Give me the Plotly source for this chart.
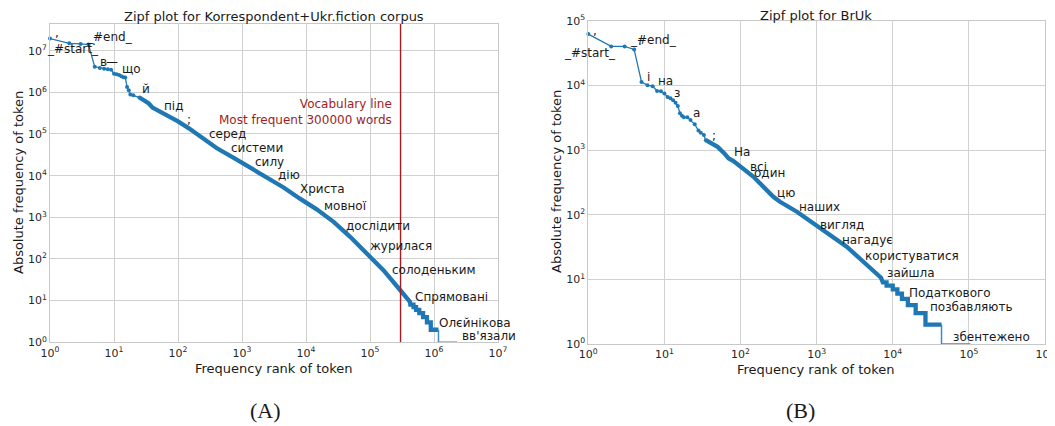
import numpy as np
import plotly.graph_objects as go

# page body adds an 8px margin, so the figure is 8px smaller and all layout positions
# are expressed in window pixels minus that offset
OFF = 8
W, H = 1055 - OFF, 426 - OFF
C0 = "#1f77b4"
RED = "#a11d21"
GRID = "#d0d0d0"
FONT = "DejaVu Sans"

# ---------------- (A) Korrespondent + Ukr.fiction ----------------
a_head_rank = [1, 2, 3, 4, 5, 6, 7, 8, 9, 10, 11, 12, 13, 14, 15, 16, 17, 18, 20, 25]
a_head_freq = [1.95e7, 1.5e7, 1.45e7, 1.4e7, 4.1e6, 3.85e6, 3.7e6, 3.6e6, 3.5e6, 2.8e6,
               2.7e6, 2.6e6, 2.43e6, 2.3e6, 2.26e6, 1.35e6, 1.12e6, 8.9e5, 8.5e5, 7.5e5]
a_body_rank = [25, 30, 35, 40, 45, 50, 60, 70, 80, 100, 150, 200, 300, 400, 720, 1330, 2450,
               4470, 8050, 14700, 27000, 49000, 89000, 162000, 295000, 422000]
a_body_freq = [7.5e5, 6.5e5, 5.4e5, 4.3e5, 3.9e5, 3.6e5, 3.2e5, 2.8e5, 2.5e5, 2.0e5, 1.35e5,
               1.0e5, 6.4e4, 4.6e4, 2.75e4, 1.6e4, 9.3e3, 5.2e3, 2.8e3, 1.55e3, 780, 340,
               135, 54, 18, 9.3]
a_step_freq = [8, 7, 6, 5, 4, 3, 2, 1]
a_step_start = [4.27e5, 4.79e5, 5.25e5, 5.89e5, 6.76e5, 7.76e5, 8.91e5, 1.175e6]
a_step_end = [4.78e5, 5.24e5, 5.88e5, 6.75e5, 7.75e5, 8.90e5, 1.174e6, 2.3e6]
a_vocab = 300000

a_labels = [",", "_#start_", ".", "_#end_", "в", "—", "що", "й", "під", ";", "серед",
            "системи", "силу", "дію", "Христа", "мовної", "дослідити", "журилася",
            "солоденьким", "Спрямовані", "Олєйнікова", "вв'язали"]
a_lab_rank = [1.1, 1.0, 4.2, 3.4, 5.7, 7.0, 12.4, 25.5, 56, 129, 284, 627, 1480, 3400,
              7500, 17800, 39000, 93000, 2.04e5, 4.7e5, 1.12e6, 2.55e6]
a_lab_freq = [2.6e7, 1.07e7, 1.68e7, 2.1e7, 5.4e6, 5.4e6, 3.7e6, 1.18e6, 4.7e5, 2.15e5,
              9.9e4, 4.6e4, 2.1e4, 1.02e4, 4740, 1860, 617, 204, 54, 12.2, 2.9, 1.42]
a_lab_shift = [0, -5, 0, 0, 0, 0, 0, 0, 0, 0, 0, 0, 0, 0, 0, 0, 0, 0, 0, 0, 0, 0]

# ---------------- (B) BrUk ----------------
b_head_rank = [1, 2, 3, 4, 5, 6, 7, 8, 9, 10, 11, 12, 13, 14, 15, 16, 17, 18, 20, 22, 25,
               28, 30, 33, 35]
b_head_freq = [6.2e4, 4.0e4, 4.0e4, 3.6e4, 1.13e4, 1.0e4, 9.7e3, 8.2e3, 8.1e3, 7.5e3, 6.6e3,
               6.3e3, 5.9e3, 5.4e3, 4.8e3, 3.7e3, 3.4e3, 3.2e3, 3.2e3, 2.9e3, 2.5e3, 2.0e3,
               1.85e3, 1.7e3, 1.42e3]
b_body_rank = [35, 40, 45, 50, 60, 70, 80, 100, 148, 270, 330, 550, 906, 1500, 2480, 4110,
               6170, 7000]
b_body_freq = [1.42e3, 1.29e3, 1.23e3, 1.12e3, 910, 740, 680, 550, 385, 189, 158, 111, 73,
               48, 32, 18.7, 12.4, 10.6]
b_step_freq = [9, 8, 7, 6, 5, 4, 3, 2, 1]
b_step_start = [7.4e3, 8.3e3, 1.0e4, 1.15e4, 1.32e4, 1.58e4, 2.0e4, 2.69e4, 4.37e4]
b_step_end = [8.29e3, 9.99e3, 1.149e4, 1.319e4, 1.579e4, 1.999e4, 2.689e4, 4.369e4, 1.05e5]

b_labels = [",", "_#start_", "_#end_", ".", "і", "на", "з", "а", ";", "На", "всі", "один",
            "цю", "наших", "вигляд", "нагадує", "користуватися", "зайшла", "Податкового",
            "позбавляють", "збентежено"]
b_lab_rank = [1.1, 1.0, 3.3, 4.2, 5.6, 7.8, 12.6, 22.3, 40, 77, 125, 141, 282, 550, 1040,
              2030, 4060, 7900, 15400, 29000, 58000]
b_lab_freq = [6.9e4, 3.2e4, 5.1e4, 4.8e4, 1.35e4, 1.16e4, 7600, 3700, 1640, 930, 545, 437,
              215, 131, 69, 40, 23, 12.6, 6.2, 3.7, 1.28]
b_lab_shift = [0, -26, 0, 0, 0, 0, 0, 0, 0, 0, 0, 0, 0, 0, 0, 0, 0, 0, 0, 0, 0]

fig = go.Figure()


def add_curve(xa, ya, hr, hf, br, bf, sf, ss, se):
    # sparse head with visible markers
    fig.add_trace(go.Scatter(x=hr, y=hf, mode="lines+markers", xaxis=xa, yaxis=ya,
                             line=dict(color=C0, width=1.3), marker=dict(color=C0, size=4),
                             showlegend=False, hoverinfo="skip", cliponaxis=False))
    # dense body (markers merge into a thick line) incl. frequency plateaus > 1
    xs, ys = list(br), list(bf)
    for f, s, e in zip(sf[:-1], ss[:-1], se[:-1]):
        xs += [s, e]
        ys += [f, f]
    fig.add_trace(go.Scatter(x=xs, y=ys, mode="lines", xaxis=xa, yaxis=ya,
                             line=dict(color=C0, width=4.3), showlegend=False,
                             hoverinfo="skip"))
    # last plateau (frequency 1)
    fig.add_trace(go.Scatter(x=[se[-2], ss[-1], se[-1]], y=[sf[-2], sf[-1], sf[-1]],
                             mode="lines", xaxis=xa, yaxis=ya,
                             line=dict(color="#3a8cc8", width=1.5), showlegend=False,
                             hoverinfo="skip", cliponaxis=False))


add_curve("x", "y", a_head_rank, a_head_freq, a_body_rank, a_body_freq,
          a_step_freq, a_step_start, a_step_end)
add_curve("x2", "y2", b_head_rank, b_head_freq, b_body_rank, b_body_freq,
          b_step_freq, b_step_start, b_step_end)

A_YMAX = 7.64
fig.add_trace(go.Scatter(x=[a_vocab, a_vocab], y=[1, 10 ** A_YMAX], mode="lines",
                         xaxis="x", yaxis="y", line=dict(color=RED, width=1.4),
                         showlegend=False, hoverinfo="skip"))

ann = []
for t, r, f, sh in zip(a_labels, a_lab_rank, a_lab_freq, a_lab_shift):
    ann.append(dict(x=np.log10(r), y=np.log10(f), xref="x", yref="y", text=t,
                    showarrow=False, xanchor="left", yanchor="middle", xshift=sh,
                    font=dict(family=FONT, size=12, color="#1a1a1a")))
for t, r, f, sh in zip(b_labels, b_lab_rank, b_lab_freq, b_lab_shift):
    ann.append(dict(x=np.log10(r), y=np.log10(f), xref="x2", yref="y2", text=t,
                    showarrow=False, xanchor="left", yanchor="middle", xshift=sh,
                    font=dict(family=FONT, size=12, color="#1a1a1a")))
ann.append(dict(x=np.log10(2.4e5), y=np.log10(3.3e5), xref="x", yref="y",
                text="Vocabulary line<br>Most frequent 300000 words", align="right",
                showarrow=False, xanchor="right", yanchor="middle",
                font=dict(family=FONT, size=12, color=RED)))


def px(xp):
    return (xp - OFF) / W


def py(yp):
    return 1 - (yp - OFF) / H


texts = [
    ("Zipf plot for Korrespondent+Ukr.fiction corpus", 274, 17, 13, 0),
    ("Zipf plot for BrUk", 816, 16, 13, 0),
    ("Frequency rank of token", 274, 368, 13, 0),
    ("Frequency rank of token", 816, 369, 13, 0),
    ("Absolute frequency of token", 18, 183, 13, -90),
    ("Absolute frequency of token", 556, 182, 13, -90),
]
for t, xx, yy, s, ang in texts:
    ann.append(dict(x=px(xx), y=py(yy), xref="paper", yref="paper", text=t,
                    showarrow=False, xanchor="center", yanchor="middle", textangle=ang,
                    font=dict(family=FONT, size=s, color="#1a1a1a")))
for t, xx in [("(A)", 265), ("(B)", 800)]:
    ann.append(dict(x=px(xx), y=py(410), xref="paper", yref="paper", text=t,
                    showarrow=False, xanchor="center", yanchor="middle",
                    font=dict(family="Liberation Serif", size=22, color="#1a1a1a")))


def log_axis(dom, rng, nmax, anchor):
    vals = [10 ** k for k in range(nmax + 1)]
    txt = ["10<sup>%d</sup>" % k for k in range(nmax + 1)]
    return dict(type="log", domain=dom, range=rng, anchor=anchor, tickvals=vals,
                ticktext=txt, showgrid=True, gridcolor=GRID, gridwidth=1,
                showline=True, mirror=True, linecolor="#c8c8c8", linewidth=1,
                ticks="", zeroline=False, automargin=False,
                tickfont=dict(family=FONT, size=11, color="#262626"))


fig.update_layout(
    width=W, height=H, margin=dict(l=0, r=0, t=0, b=0, pad=0, autoexpand=False),
    paper_bgcolor="white", plot_bgcolor="white", showlegend=False,
    xaxis=log_axis([px(50), px(498)], [0, 7], 7, "y"),
    yaxis=log_axis([py(342.3), py(24)], [0, A_YMAX], 7, "x"),
    xaxis2=log_axis([px(588.3), px(1045)], [0, 6], 6, "y2"),
    yaxis2=log_axis([py(344), py(20.7)], [0, 5], 5, "x2"),
    annotations=ann,
)

fig.write_html("out.html")
